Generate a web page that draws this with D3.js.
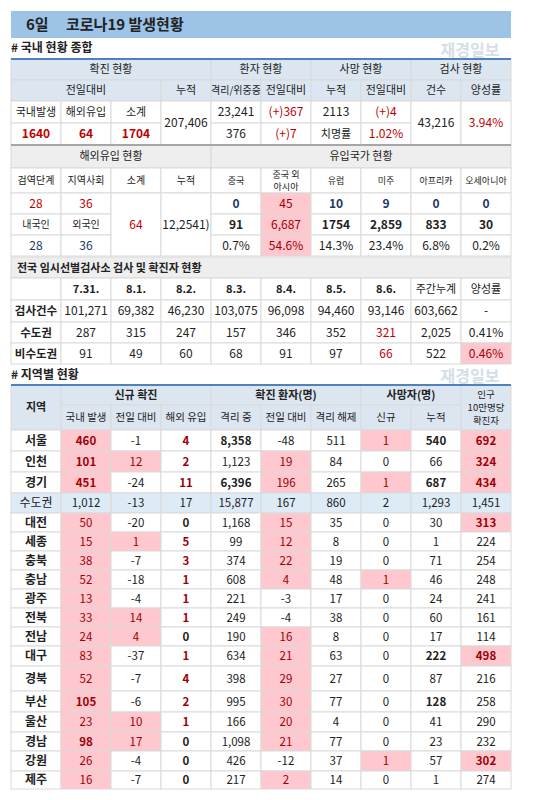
<!DOCTYPE html>
<html><head><meta charset="utf-8">
<script src="https://cdn.jsdelivr.net/npm/d3@7"></script>
<style>body{margin:0;background:#fff}text{font-family:"Noto Sans CJK KR","Noto Sans",sans-serif}</style>
</head><body>
<script>
// ---- data ----
const summaryDomestic = [1640, 64, 1704];
const summaryTotal = "207,406";
const patients = ["23,241", "(+)367", "376", "(+)7"];
const deaths = ["2113", "(+)4", "1.02%"];
const tests = ["43,216", "3.94%"];

const importStage = [28, 36];
const importNation = [28, 36];
const importSum = 64, importCum = "12,2541)";
const countries = ["중국", "중국 외|아시아", "유럽", "미주", "아프리카", "오세아니아"];
const countryToday = ["0", "45", "10", "9", "0", "0"];
const countryCum = ["91", "6,687", "1754", "2,859", "833", "30"];
const countryPct = ["0.7%", "54.6%", "14.3%", "23.4%", "6.8%", "0.2%"];

const dates = ["7.31.", "8.1.", "8.2.", "8.3.", "8.4.", "8.5.", "8.6.", "주간누계", "양성률"];
const testRows = ["검사건수", "수도권", "비수도권"];
const testVals = [
  ["101,271", "69,382", "46,230", "103,075", "96,098", "94,460", "93,146", "603,662", "-"],
  ["287", "315", "247", "157", "346", "352", "321", "2,025", "0.41%"],
  ["91", "49", "60", "68", "91", "97", "66", "522", "0.46%"]
];

const regions = ["서울", "인천", "경기", "수도권", "대전", "세종", "충북", "충남", "광주", "전북", "전남", "대구", "경북", "부산", "울산", "경남", "강원", "제주"];
const domestic = [460, 101, 451, 1012, 50, 15, 38, 52, 13, 33, 24, 83, 52, 105, 23, 98, 26, 16];
const domDiff = [-1, 12, -24, -13, -20, 1, -7, -18, -4, 14, 4, -37, -7, -6, 10, 17, -4, -7];
const overseas = [4, 2, 11, 17, 0, 5, 3, 1, 1, 1, 0, 1, 4, 2, 1, 0, 0, 0];
const isolating = [8358, 1123, 6396, 15877, 1168, 99, 374, 608, 221, 249, 190, 634, 398, 995, 166, 1098, 426, 217];
const isoDiff = [-48, 19, 196, 167, 15, 12, 22, 4, -3, -4, 16, 21, 29, 30, 20, 21, -12, 2];
const released = [511, 84, 265, 860, 35, 8, 19, 48, 17, 38, 8, 63, 27, 77, 4, 77, 37, 14];
const deathNew = [1, 0, 1, 2, 0, 0, 0, 1, 0, 0, 0, 0, 0, 0, 0, 0, 1, 0];
const deathCum = [540, 66, 687, 1293, 30, 1, 71, 46, 24, 60, 17, 222, 87, 128, 41, 23, 57, 1];
const per100k = [692, 324, 434, 1451, 313, 224, 254, 248, 241, 161, 114, 498, 216, 258, 290, 232, 302, 274];

// ---- drawing ----
const W = 550, H = 800;
const PINK = "#ffc7ce", RED = "#9c0006", RED2 = "#c00000", GRID = "#d9d9d9", BLUEBG = "#dce6f1", GRAY = "#eeeeee", INK = "#222";
const svg = d3.select("body").append("svg").attr("width", W).attr("height", H);
const x = d3.scaleLinear().domain([0, 10]).range([11, 511]);
const fmt = d3.formatLocale({ decimal: ".", thousands: ",", grouping: [3], currency: ["", ""], minus: "-" }).format(",");

const wm = svg.append("g");

function cell(c0, c1, y0, y1, txt, o = {}) {
  const g = svg.append("g");
  g.append("rect").attr("x", x(c0)).attr("y", y0).attr("width", x(c1) - x(c0)).attr("height", y1 - y0)
    .attr("fill", o.bg || "#fff").attr("stroke", GRID).attr("stroke-width", 1);
  const lines = String(txt).split("|");
  const lh = o.lh || 13;
  lines.forEach((l, i) => {
    g.append("text").attr("x", (x(c0) + x(c1)) / 2)
      .attr("y", (y0 + y1) / 2 + (i - (lines.length - 1) / 2) * lh)
      .attr("dy", "0.36em").attr("text-anchor", "middle")
      .attr("font-size", o.fs || 11).attr("font-weight", o.bold ? "bold" : "normal")
      .attr("fill", o.color || INK).text(l);
  });
}

// title
svg.append("rect").attr("x", 11).attr("y", 11).attr("width", 500).attr("height", 27).attr("fill", "#9dc3e6");
svg.append("text").attr("x", 26).attr("y", 30).attr("font-size", 15).attr("font-weight", "bold").attr("fill", "#222").text("6일");
svg.append("text").attr("x", 66).attr("y", 30).attr("font-size", 15).attr("font-weight", "bold").attr("fill", "#222").text("코로나19 발생현황");
svg.append("text").attr("x", 11).attr("y", 52).attr("font-size", 12).attr("font-weight", "bold").attr("fill", "#222").text("# 국내 현황 종합");

// table 1
const r1 = [59, 80, 101, 123, 145];
cell(0, 4, r1[0], r1[1], "확진 현황", { bg: BLUEBG });
cell(4, 6, r1[0], r1[1], "환자 현황", { bg: BLUEBG });
cell(6, 8, r1[0], r1[1], "사망 현황", { bg: BLUEBG });
cell(8, 10, r1[0], r1[1], "검사 현황", { bg: BLUEBG });
cell(0, 3, r1[1], r1[2], "전일대비", { bg: BLUEBG });
["누적", "격리/위중증", "전일대비", "누적", "전일대비", "건수", "양성률"].forEach((t, i) =>
  cell(3 + i, 4 + i, r1[1], r1[2], t, { bg: BLUEBG, fs: i === 1 ? 10 : 11 }));
["국내발생", "해외유입", "소계"].forEach((t, i) => cell(i, i + 1, r1[2], r1[3], t));
summaryDomestic.forEach((v, i) => cell(i, i + 1, r1[3], r1[4], v, { color: RED2, bold: true, fs: 12 }));
cell(3, 4, r1[2], r1[4], summaryTotal, { fs: 12 });
cell(4, 5, r1[2], r1[3], patients[0], { fs: 12 });
cell(5, 6, r1[2], r1[3], patients[1], { fs: 12, color: RED2 });
cell(4, 5, r1[3], r1[4], patients[2], { fs: 12 });
cell(5, 6, r1[3], r1[4], patients[3], { fs: 12, color: RED2 });
cell(6, 7, r1[2], r1[3], deaths[0], { fs: 12 });
cell(7, 8, r1[2], r1[3], deaths[1], { fs: 12, color: RED2 });
cell(6, 7, r1[3], r1[4], "치명률");
cell(7, 8, r1[3], r1[4], deaths[2], { fs: 12, color: RED2 });
cell(8, 9, r1[2], r1[4], tests[0], { fs: 12 });
cell(9, 10, r1[2], r1[4], tests[1], { fs: 12, color: RED2 });
svg.append("line").attr("x1", 11).attr("x2", 511).attr("y1", r1[0]).attr("y2", r1[0]).attr("stroke", "#4f81bd").attr("stroke-width", 2);

// table 2
const r2 = [145, 168, 193, 214, 235, 256];
cell(0, 4, r2[0], r2[1], "해외유입 현황", { bg: GRAY });
cell(4, 10, r2[0], r2[1], "유입국가 현황", { bg: GRAY });
["검역단계", "지역사회", "소계", "누적"].forEach((t, i) => cell(i, i + 1, r2[1], r2[2], t, { fs: 10 }));
countries.forEach((t, i) => cell(4 + i, 5 + i, r2[1], r2[2], t, { fs: 9, lh: 12 }));
importStage.forEach((v, i) => cell(i, i + 1, r2[2], r2[3], v, { color: RED2, fs: 12 }));
["내국인", "외국인"].forEach((t, i) => cell(i, i + 1, r2[3], r2[4], t, { fs: 10 }));
importNation.forEach((v, i) => cell(i, i + 1, r2[4], r2[5], v, { color: "#1f3864", fs: 12 }));
cell(2, 3, r2[2], r2[5], importSum, { color: RED2, fs: 12 });
cell(3, 4, r2[2], r2[5], importCum, { fs: 12 });
[countryToday, countryCum, countryPct].forEach((row, j) => row.forEach((v, i) => {
  const hl = i === 1;
  cell(4 + i, 5 + i, r2[2 + j], r2[3 + j], v, {
    bg: hl ? PINK : "#fff", color: hl ? RED : (j === 0 ? "#1f3864" : INK), fs: 12, bold: j < 2 && !hl
  });
}));
svg.append("line").attr("x1", 11).attr("x2", 511).attr("y1", r2[0]).attr("y2", r2[0]).attr("stroke", "#a6a6a6").attr("stroke-width", 2);

// table 3
const r3 = [257, 278, 300, 322, 343, 364];
cell(0, 10, r3[0], r3[1], "", { bg: GRAY });
svg.append("text").attr("x", 17).attr("y", r3[0] + 15).attr("font-size", 11).attr("font-weight", "bold").attr("fill", INK).text("전국 임시선별검사소 검사 및 확진자 현황");
cell(0, 1, r3[1], r3[2], "");
dates.forEach((d, i) => cell(1 + i, 2 + i, r3[1], r3[2], d, { bold: i < 7 }));
testRows.forEach((t, j) => {
  cell(0, 1, r3[2 + j], r3[3 + j], t, { bold: true, fs: 11.5 });
  testVals[j].forEach((v, i) => {
    const hl = j === 2 && i === 8;
    cell(1 + i, 2 + i, r3[2 + j], r3[3 + j], v, {
      fs: 12, bg: hl ? PINK : "#fff", color: hl ? RED : (j > 0 && i === 6 ? RED2 : INK)
    });
  });
});

svg.append("text").attr("x", 11).attr("y", 379).attr("font-size", 12).attr("font-weight", "bold").attr("fill", "#222").text("# 지역별 현황");

// table 4
const h0 = 385, h1 = 405, h2 = 430;
cell(0, 1, h0, h2, "지역", { bg: BLUEBG, bold: true });
cell(1, 4, h0, h1, "신규 확진", { bg: BLUEBG, bold: true });
cell(4, 7, h0, h1, "확진 환자(명)", { bg: BLUEBG, bold: true });
cell(7, 9, h0, h1, "사망자(명)", { bg: BLUEBG, bold: true });
cell(9, 10, h0, h2, "인구|10만명당|확진자", { bg: BLUEBG, fs: 9.5, lh: 13 });
["국내 발생", "전일 대비", "해외 유입", "격리 중", "전일 대비", "격리 해제", "신규", "누적"].forEach((t, i) =>
  cell(1 + i, 2 + i, h1, h2, t, { bg: BLUEBG, fs: 10.5 }));

const rowH = [21, 21, 21, 20, 19, 19, 19, 19, 19, 19, 19, 20, 25, 21, 20, 19, 20, 18];
let yy = h2;
regions.forEach((r, k) => {
  const y0 = yy, y1 = yy + rowH[k];
  yy = y1;
  const sub = r === "수도권";
  const base = sub ? "#ddebf7" : "#fff";
  const C = (c, v, o) => cell(c, c + 1, y0, y1, typeof v === "number" ? fmt(v) : v, Object.assign({ bg: base, fs: 11.5 }, o));
  C(0, r, { bold: !sub, fs: 12 });
  if (sub) {
    [domestic, domDiff, overseas, isolating, isoDiff, released, deathNew, deathCum, per100k]
      .forEach((a, i) => C(1 + i, a[k]));
    return;
  }
  C(1, domestic[k], { bg: PINK, color: RED, bold: domestic[k] >= 90 });
  C(2, domDiff[k], domDiff[k] > 0 ? { bg: PINK, color: RED } : {});
  C(3, overseas[k], { bold: true, color: overseas[k] > 0 ? RED : INK });
  C(4, isolating[k], { bold: isolating[k] > 5000 });
  C(5, isoDiff[k], isoDiff[k] > 0 ? { bg: PINK, color: RED } : {});
  C(6, released[k]);
  C(7, deathNew[k], deathNew[k] > 0 ? { bg: PINK, color: RED } : {});
  C(8, deathCum[k], { bold: deathCum[k] > 100 });
  C(9, per100k[k], per100k[k] >= 300 ? { bg: PINK, color: RED, bold: true } : {});
});
svg.append("line").attr("x1", 11).attr("x2", 511).attr("y1", h0).attr("y2", h0).attr("stroke", "#4f81bd").attr("stroke-width", 2);

// faint watermark text in the blank margin above each table
[[470, 56], [470, 382]].forEach(([wx, wy]) =>
  wm.append("text").attr("x", wx).attr("y", wy).attr("text-anchor", "middle").attr("font-size", 16)
    .attr("font-weight", "bold").attr("fill", "#d5dee8").text("재경일보"));
</script>
</body></html>
